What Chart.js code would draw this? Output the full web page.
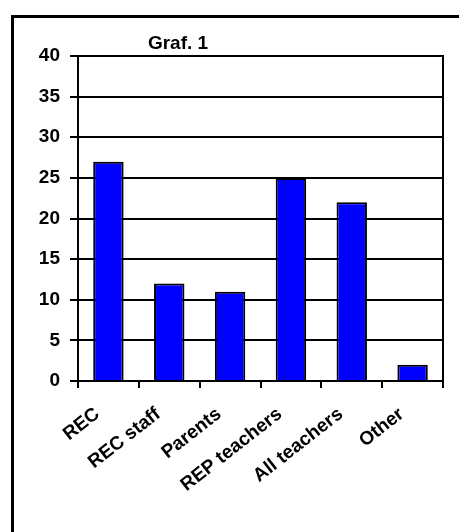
<!DOCTYPE html>
<html>
<head>
<meta charset="utf-8">
<script src="https://cdn.jsdelivr.net/npm/chart.js@4/dist/chart.umd.min.js"></script>
<style>
  html, body { margin: 0; padding: 0; background: #fff; }
  #wrap { position: relative; width: 459px; height: 532px; overflow: hidden; }
  #frame { position: absolute; left: 11px; top: 15px; width: 600px; height: 700px;
           border-left: 3px solid #000; border-top: 3px solid #000; box-sizing: border-box; }
  canvas { position: absolute; left: 0; top: 0; }
</style>
</head>
<body>
<div id="wrap">
  <div id="frame"></div>
  <canvas id="c" width="459" height="532"></canvas>
</div>
<script>
const chartTitle = "Graf. 1";
const categories = ["REC", "REC staff", "Parents", "REP teachers", "All teachers", "Other"];
const values = [27, 12, 11, 25, 22, 2];
const yMin = 0, yMax = 40, yStep = 5;

const FONT = "'Liberation Sans', Arial, sans-serif";

const frameAndTitle = {
  id: 'frameAndTitle',
  afterDraw(chart) {
    const { ctx, chartArea } = chart;
    ctx.save();
    ctx.strokeStyle = '#000';
    ctx.lineWidth = 2;
    ctx.beginPath();
    ctx.moveTo(chartArea.left, chartArea.top);
    ctx.lineTo(chartArea.right, chartArea.top);
    ctx.lineTo(chartArea.right, chartArea.bottom);
    ctx.stroke();
    ctx.fillStyle = '#000';
    ctx.font = "bold 19px " + FONT;
    ctx.textAlign = 'center';
    ctx.textBaseline = 'alphabetic';
    ctx.fillText(chartTitle, chartArea.left + 100, chartArea.top - 7);
    ctx.restore();
  }
};

new Chart(document.getElementById('c'), {
  type: 'bar',
  data: {
    labels: categories,
    datasets: [{
      data: values,
      backgroundColor: '#0000FF',
      borderColor: '#000000',
      borderWidth: 2,
      barPercentage: 0.5,
      categoryPercentage: 1.0
    }]
  },
  options: {
    responsive: false,
    animation: false,
    devicePixelRatio: 1,
    layout: { padding: { left: 13, top: 56, right: 16, bottom: 0 } },
    plugins: { legend: { display: false }, tooltip: { enabled: false }, title: { display: false } },
    scales: {
      x: {
        grid: { display: true, offset: true, drawOnChartArea: false, drawTicks: true,
                tickLength: 7, color: '#000', lineWidth: 2 },
        border: { display: true, color: '#000', width: 2 },
        ticks: { color: '#000', font: { family: FONT, size: 19, weight: 'bold' },
                 minRotation: 38, maxRotation: 38, autoSkip: false, padding: 15, labelOffset: -11 },
        afterFit(scale) { scale.height = 151; }
      },
      y: {
        min: yMin, max: yMax,
        grid: { display: true, color: '#000', lineWidth: 2, tickLength: 8, drawTicks: true },
        border: { display: true, color: '#000', width: 2 },
        ticks: { stepSize: yStep, color: '#000', font: { family: FONT, size: 19, weight: 'bold' },
                 padding: 10 },
        afterFit(scale) { scale.width = 65; }
      }
    }
  },
  plugins: [frameAndTitle]
});
</script>
</body>
</html>
